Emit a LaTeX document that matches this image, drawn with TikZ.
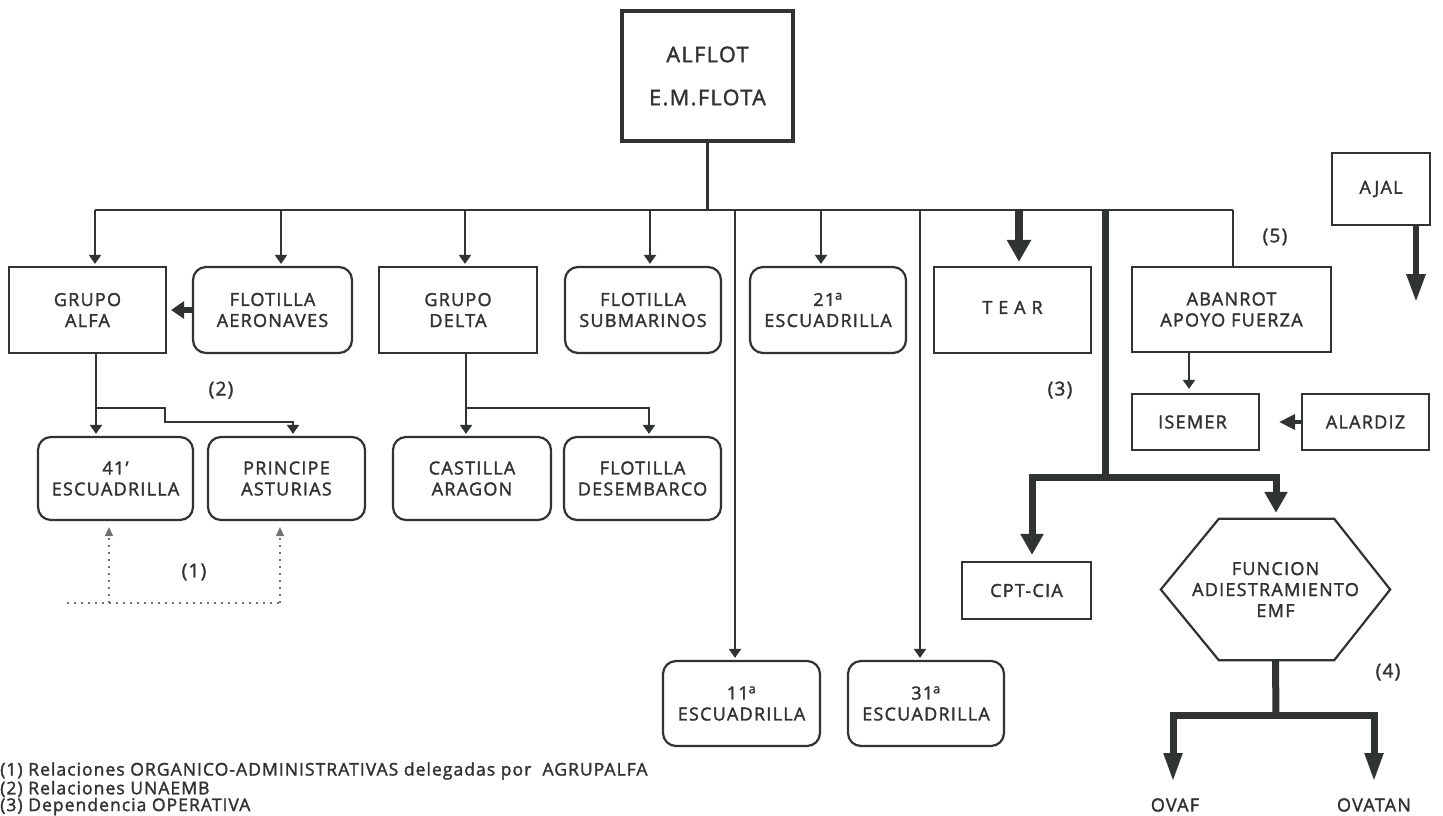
\documentclass[tikz,border=0pt]{standalone}
\usepackage{fontspec}
\setmainfont{Open Sans}[LetterSpace=7,FakeBold=1.8]
\usetikzlibrary{arrows.meta,calc}
\definecolor{ink}{RGB}{48,52,48}
\begin{document}
\begin{tikzpicture}[x=1pt,y=-1pt,
  every node/.style={text=ink,font=\fontsize{18}{21}\selectfont,inner sep=0pt},
  box/.style={draw=ink,line width=2.2pt,align=center,minimum width=157pt,minimum height=86pt},
  rbox/.style={box,rounded corners=13pt},
  lnthin/.style={draw=ink,line width=2.1pt},
  lnthick/.style={draw=ink,line width=7pt},
  tarr/.style={lnthin,-{Triangle[width=12pt,length=9pt]},shorten >=2pt},
  bigarr/.style={draw=ink,line width=7pt,-{Triangle[width=22pt,length=21pt]}},
  medarr/.style={draw=ink,line width=6pt,-{Triangle[width=17pt,length=13pt]}},
  longarr/.style={draw=ink,line width=7pt,-{Triangle[width=17pt,length=29pt]}},
  smarr/.style={draw=ink,line width=3.5pt,-{Triangle[width=15pt,length=16pt]}},
  dotl/.style={draw=ink!70,line width=1.1pt,dash pattern=on 2pt off 5pt},
  dotarr/.style={dotl,-{Triangle[width=8pt,length=9pt]}},
  lbl/.style={font=\fontsize{19}{21}\selectfont},
  legend/.style={anchor=west,font=\fontsize{17.5}{20}\selectfont\addfontfeatures{LetterSpace=6}}
]
\useasboundingbox[fill=white] (0,0) rectangle (1443,815);

% ---- nodes ----
\node[box,line width=4.5pt,minimum width=171pt,minimum height=130pt,font=\fontsize{21.5}{43}\selectfont] (alflot) at (707.5,76) {ALFLOT\\E.M.FLOTA};

\node[box] (alfa) at (87.5,310) {GRUPO\\ALFA};
\node[rbox,minimum width=159pt] (aero) at (272.5,310) {FLOTILLA\\AERONAVES};
\node[box,minimum width=158pt] (delta) at (458,310) {GRUPO\\DELTA};
\node[rbox,minimum width=156pt] (subm) at (643,310) {FLOTILLA\\SUBMARINOS};
\node[rbox,minimum width=156pt] (e21) at (828,310) {21\textsuperscript{a}\\ESCUADRILLA};
\node[box] (tear) at (1012.5,310) {\raisebox{5pt}{T E A R}};
\node[box,minimum width=199pt,minimum height=85pt] (aban) at (1231.5,309.5) {ABANROT\\APOYO FUERZA};
\node[box,minimum width=98pt,minimum height=72pt] (ajal) at (1381,189) {AJAL};

\node[box,minimum width=127pt,minimum height=56pt] (isemer) at (1195.5,422) {\hspace*{-6pt}ISEMER};
\node[box,minimum width=127pt,minimum height=56pt] (alardiz) at (1365.5,422) {ALARDIZ};

\node[rbox,minimum width=155pt,minimum height=83pt] (e41) at (115.5,478.5) {41'\\ESCUADRILLA};
\node[rbox,minimum width=157pt,minimum height=83pt] (princ) at (286.5,478.5) {PRINCIPE\\ASTURIAS};
\node[rbox,minimum width=158pt,minimum height=83pt] (cast) at (472,478.5) {CASTILLA\\ARAGON};
\node[rbox,minimum width=157pt,minimum height=83pt] (desem) at (642.5,478.5) {FLOTILLA\\DESEMBARCO};

\node[rbox,minimum width=157pt,minimum height=85pt] (e11) at (741.5,703.5) {11\textsuperscript{a}\\ESCUADRILLA};
\node[rbox,minimum width=156pt,minimum height=85pt] (e31) at (926,703.5) {31\textsuperscript{a}\\ESCUADRILLA};

\node[box,minimum width=129pt,minimum height=57pt] (cpt) at (1026.5,590.5) {CPT-CIA};

\node[align=center,minimum width=229pt,minimum height=141pt] (hex) at (1275.5,589.5) {FUNCION\\ADIESTRAMIENTO\\EMF};
\draw[ink,line width=2.2pt,line join=miter] (hex.west) -- ([xshift=58pt]hex.north west) -- ([xshift=-56pt]hex.north east) -- (hex.east) -- ([xshift=-56pt]hex.south east) -- ([xshift=58pt]hex.south west) -- cycle;

\node (ovaf) at (1175,805) {OVAF};
\node (ovatan) at (1374,805) {OVATAN};

\node[lbl] (n1) at (194,572) {(1)};
\node[lbl] (n2) at (221,390) {(2)};
\node[lbl] (n3) at (1060,390) {(3)};
\node[lbl] (n4) at (1388,672) {(4)};
\node[lbl] (n5) at (1275,237) {(5)};

\node[legend] (lg1) at (0,771) {(1) Relaciones ORGANICO-ADMINISTRATIVAS delegadas por \ AGRUPALFA};
\node[legend] (lg2) at (0,789) {(2) Relaciones UNAEMB};
\node[legend] (lg3) at (0,806.5) {(3) Dependencia OPERATIVA};

% ---- bus ----
\coordinate (bL) at (95,210);
\coordinate (bR) at (1233,210);
\draw[lnthin,line width=2.3pt] (bL) -- (bR);
\draw[lnthin] (alflot.south) -- (alflot.south |- bL);

\coordinate (dA) at (95,210);
\coordinate (dB) at (281,210);
\coordinate (dC) at (465,210);
\coordinate (dD) at (650,210);
\coordinate (dE) at (735,210);
\coordinate (dF) at (821,210);
\coordinate (dG) at (920,210);
\coordinate (dT) at (1019,210);
\coordinate (dK) at (1105,210);
\draw[tarr] (dA) -- (dA |- alfa.north);
\draw[tarr] (dB) -- (dB |- aero.north);
\draw[tarr] (dC) -- (dC |- delta.north);
\draw[tarr] (dD) -- (dD |- subm.north);
\draw[tarr] (dE) -- (dE |- e11.north);
\draw[tarr] (dF) -- (dF |- e21.north);
\draw[tarr] (dG) -- (dG |- e31.north);
\draw[bigarr,line width=8pt,-{Triangle[width=23pt,length=22pt]},shorten >=4pt] (dT) -- (dT |- tear.north);
\draw[lnthin] (bR) -- (bR |- aban.north);

% ---- thick branch ----
\coordinate (kJ) at (1105,477);
\coordinate (kL) at (1032,477);
\coordinate (kR) at (1276,477);
\draw[lnthick] (dK) -- ([yshift=-3.5pt]kJ);
\draw[bigarr,shorten >=6pt] (kJ) -- (kL) -- (kL |- cpt.north);
\draw[bigarr,shorten >=6pt] (kJ) -- (kR) -- (kR |- hex.north);

% ---- below hexagon ----
\coordinate (hJ) at (1276,715);
\coordinate (hL) at (1173,715);
\coordinate (hR) at (1374,715);
\draw[lnthick] (hex.south) -- ([yshift=-3.5pt]hJ);
\draw[longarr,shorten >=16pt] (hJ) -- (hL) -- (hL |- ovaf.north);
\draw[longarr,shorten >=16pt] (hJ) -- (hR) -- (hR |- ovatan.north);

% ---- right column ----
\coordinate (ajt) at (1416,302);
\draw[longarr,line width=6pt,-{Triangle[width=18pt,length=28pt]}] (ajal.south -| ajt) -- (ajt);
\coordinate (ai) at (1189,0);
\draw[tarr,shorten >=4pt] (aban.south -| ai) -- (ai |- isemer.north);
\draw[smarr,shorten >=19pt] (alardiz.west) -- (isemer.east);

% ---- left ----
\draw[medarr,shorten >=4pt] (aero.west) -- (alfa.east);
\coordinate (aJ) at (96,408);
\coordinate (aS1) at (165,408);
\coordinate (aS2) at (165,422);
\coordinate (aP) at (293,422);
\draw[tarr] (alfa.south -| aJ) -- (aJ |- e41.north);
\draw[tarr] (aJ) -- (aS1) -- (aS2) -- (aP) -- (aP |- princ.north);

\coordinate (gJ) at (466,408);
\coordinate (gP) at (649,408);
\draw[tarr] (delta.south -| gJ) -- (gJ |- cast.north);
\draw[tarr] (gJ) -- (gP) -- (gP |- desem.north);

% ---- dotted relations ----
\coordinate (q0) at (67,603);
\coordinate (qL) at (109,603);
\coordinate (qR) at (280,603);
\draw[dotl] (q0) -- (qR);
\draw[dotarr,shorten >=6pt] (qL) -- (qL |- e41.south);
\draw[dotarr,shorten >=6pt] (qR) -- (qR |- princ.south);
\end{tikzpicture}
\end{document}
